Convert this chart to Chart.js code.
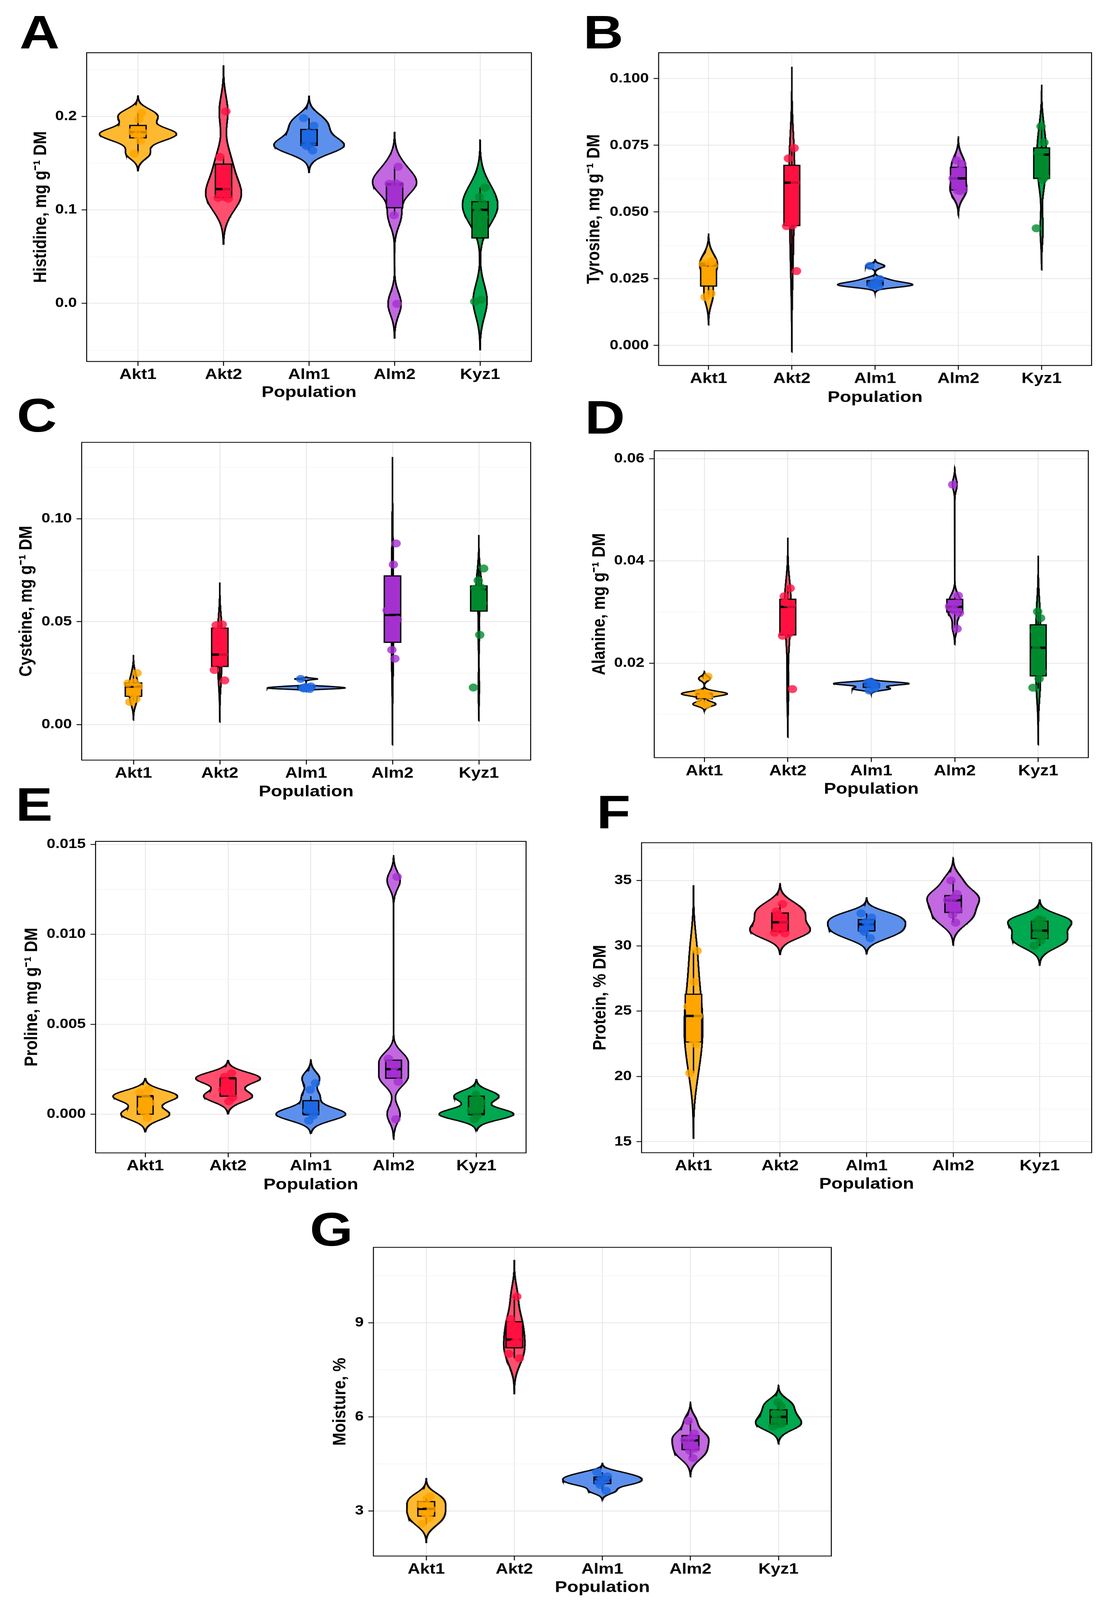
<!DOCTYPE html>
<html>
<head>
<meta charset="utf-8">
<script src="https://cdn.jsdelivr.net/npm/chart.js@4.4.1/dist/chart.umd.min.js"></script>
<style>
  html, body { margin: 0; background: #fff; overflow: hidden; }
  #page { position: absolute; left: 0; top: 0; width: 2859px; height: 4796px; transform-origin: 0 0; }
  .panel { position: absolute; }
  .tag { position: absolute; font: bold 142px "Liberation Sans", Arial, sans-serif; line-height: 1; color: #000; }
</style>
</head>
<body>
<div id="page"></div>
<script>
// populations on the x axis
const populations = ['Akt1', 'Akt2', 'Alm1', 'Alm2', 'Kyz1'];

// individual samples, one array per population (Akt1, Akt2, Alm1, Alm2, Kyz1)
const histidine = [
  [0.160, 0.174, 0.180, 0.183, 0.1835, 0.197, 0.2036],
  [0.112, 0.1128, 0.1138, 0.1222, 0.1412, 0.1566, 0.2053],
  [0.1635, 0.168, 0.1696, 0.171, 0.182, 0.190, 0.198],
  [-0.0004, 0.0942, 0.1266, 0.1278, 0.1285, 0.1461],
  [0.002, 0.004, 0.092, 0.097, 0.103, 0.107, 0.114, 0.1238]
];
const tyrosine = [
  [0.0181, 0.0195, 0.025, 0.030, 0.0305, 0.0312, 0.0315],
  [0.0279, 0.0447, 0.0451, 0.061, 0.0649, 0.0701, 0.074],
  [0.0221, 0.0224, 0.0227, 0.0233, 0.0236, 0.0249, 0.0298],
  [0.0578, 0.058, 0.0585, 0.0626, 0.0655, 0.068, 0.0694],
  [0.0439, 0.0621, 0.0631, 0.0715, 0.072, 0.0761, 0.0821]
];
const cysteine = [
  [0.011, 0.0125, 0.015, 0.0185, 0.020, 0.0205, 0.025],
  [0.0215, 0.0265, 0.030, 0.034, 0.0455, 0.0483, 0.0487],
  [0.0173, 0.0176, 0.0178, 0.018, 0.0183, 0.0186, 0.0222],
  [0.0321, 0.0363, 0.0511, 0.0555, 0.0778, 0.088],
  [0.018, 0.0436, 0.059, 0.0655, 0.066, 0.0665, 0.07, 0.0759]
];
const alanine = [
  [0.012, 0.012, 0.014, 0.014, 0.014, 0.014, 0.017],
  [0.015, 0.025, 0.026, 0.031, 0.032, 0.033, 0.035],
  [0.015, 0.015, 0.016, 0.016, 0.016, 0.016],
  [0.027, 0.030, 0.030, 0.031, 0.032, 0.033, 0.055],
  [0.015, 0.017, 0.018, 0.023, 0.026, 0.029, 0.030]
];
const proline = [
  [0, 0, 0, 0.001, 0.001, 0.001, 0.001],
  [0.001, 0.001, 0.001, 0.002, 0.002, 0.002, 0.002],
  [0, 0, 0, 0, 0.001, 0.002],
  [0, 0.002, 0.002, 0.003, 0.003, 0.013],
  [0, 0, 0, 0, 0, 0.001, 0.001, 0.001]
];
const protein = [
  [20.25, 22.48, 22.8, 24.63, 25.35, 27.23, 29.61],
  [30.95, 31.0, 31.25, 31.8, 32.4, 32.62, 33.2],
  [30.58, 31.07, 31.2, 31.65, 31.84, 32.17, 32.48],
  [31.78, 32.36, 32.75, 33.49, 33.72, 33.97, 35.0],
  [30.0, 30.39, 30.73, 31.16, 31.8, 31.96, 32.03]
];
const moisture = [
  [2.585, 2.78, 2.9, 3.07, 3.2, 3.4, 3.447],
  [7.87, 7.99, 8.41, 8.46, 8.95, 9.11, 9.846],
  [3.64, 3.85, 3.9, 3.995, 4.05, 4.12, 4.23],
  [4.7, 4.91, 5.0, 5.25, 5.35, 5.46, 5.875],
  [5.68, 5.77, 5.77, 6.0, 6.1, 6.35, 6.46]
];

// y tick values and their labels
const histidineTicks = [0, 0.1, 0.2];
const histidineLabels = ['0.0', '0.1', '0.2'];
const tyrosineTicks = [0, 0.025, 0.05, 0.075, 0.1];
const tyrosineLabels = ['0.000', '0.025', '0.050', '0.075', '0.100'];
const cysteineTicks = [0, 0.05, 0.1];
const cysteineLabels = ['0.00', '0.05', '0.10'];
const alanineTicks = [0.02, 0.04, 0.06];
const alanineLabels = ['0.02', '0.04', '0.06'];
const prolineTicks = [0, 0.005, 0.01, 0.015];
const prolineLabels = ['0.000', '0.005', '0.010', '0.015'];
const proteinTicks = [15, 20, 25, 30, 35];
const proteinLabels = ['15', '20', '25', '30', '35'];
const moistureTicks = [3, 6, 9];
const moistureLabels = ['3', '6', '9'];

// colours
const violinFill = ['#FFB930', '#FF4F6E', '#5D90EC', '#C268E0', '#00A850'];
const boxFill = ['#FFA500', '#FF1040', '#1E68E3', '#A530D0', '#008A2E'];
const pointFill = ['rgba(255,165,0,0.8)', 'rgba(255,16,64,0.8)', 'rgba(30,104,227,0.8)',
                   'rgba(165,48,208,0.8)', 'rgba(0,138,46,0.8)'];
const jitterX = [-0.6, 0.4, -0.1, 0.8, -0.9, 0.15, 0.6, -0.35];
const jitterY = [0.7, -0.5, 0.2, -0.9, 0.5, -0.2, 0.9, -0.7];

// panel layout (pixels on the 2859 x 4796 page)
const panels = [
  {tag: 'A', tagPos: [50, 43], title: 'Histidine, mg g\u207B\u00B9 DM', values: histidine,
   ticks: histidineTicks, labels: histidineLabels, range: [-0.0621, 0.268],
   plot: [221.6, 125.5, 1368, 1083], yTitleX: 105, xTitleY: 1177},
  {tag: 'B', tagPos: [1493, 43], title: 'Tyrosine, mg g\u207B\u00B9 DM', values: tyrosine,
   ticks: tyrosineTicks, labels: tyrosineLabels, range: [-0.0075, 0.1097],
   plot: [1685.4, 125.5, 2800.7, 1095], yTitleX: 1521, xTitleY: 1192},
  {tag: 'C', tagPos: [43, 1192], title: 'Cysteine, mg g\u207B\u00B9 DM', values: cysteine,
   ticks: cysteineTicks, labels: cysteineLabels, range: [-0.01723, 0.1371],
   plot: [208.8, 1293.6, 1366, 2278], yTitleX: 68, xTitleY: 2374},
  {tag: 'D', tagPos: [1497, 1198], title: 'Alanine, mg g\u207B\u00B9 DM', values: alanine,
   ticks: alanineTicks, labels: alanineLabels, range: [0.0015, 0.06156],
   plot: [1674.4, 1319, 2793.4, 2271], yTitleX: 1535, xTitleY: 2366},
  {tag: 'E', tagPos: [40, 2358], title: 'Proline, mg g\u207B\u00B9 DM', values: proline,
   ticks: prolineTicks, labels: prolineLabels, range: [-0.002154, 0.01517],
   plot: [244.4, 2490.4, 1354.3, 3455.3], yTitleX: 82, xTitleY: 3551},
  {tag: 'F', tagPos: [1527, 2382], title: 'Protein, % DM', values: protein,
   ticks: proteinTicks, labels: proteinLabels, range: [14.165, 37.89],
   plot: [1642.5, 2494.3, 2802.5, 3454.5], yTitleX: 1537.6, xTitleY: 3549},
  {tag: 'G', tagPos: [793, 3632], title: 'Moisture, %', values: moisture,
   ticks: moistureTicks, labels: moistureLabels, range: [1.567, 11.397],
   plot: [955.5, 3706.8, 2134.6, 4664], yTitleX: 871, xTitleY: 4759}
];

// the figure is 4796px tall; squeeze it vertically if the window is shorter
const page = document.getElementById('page');
const fit = Math.min(1, window.innerHeight / 4796);
if (fit < 1) page.style.transform = 'scale(1,' + fit + ')';

// --- stats (what ggplot does for violins and boxplots) ---
function quantile(s, p) {
  const h = (s.length - 1) * p, lo = Math.floor(h), hi = Math.min(lo + 1, s.length - 1);
  return s[lo] + (h - lo) * (s[hi] - s[lo]);
}
function sd(a) {
  const m = a.reduce((t, v) => t + v, 0) / a.length;
  return Math.sqrt(a.reduce((t, v) => t + (v - m) * (v - m), 0) / (a.length - 1));
}
function bwNrd0(a) {
  const s = a.slice().sort((x, y) => x - y);
  const hi = sd(s);
  let lo = Math.min(hi, (quantile(s, 0.75) - quantile(s, 0.25)) / 1.34);
  if (!lo) lo = hi || Math.abs(s[0]) || 1;
  return 0.9 * lo * Math.pow(s.length, -0.2);
}
function density(a) {
  const bw = bwNrd0(a), steps = 300;
  const from = Math.min(...a) - 3 * bw, to = Math.max(...a) + 3 * bw;
  const out = [];
  for (let k = 0; k <= steps; k++) {
    const y = from + (to - from) * k / steps;
    let d = 0;
    for (const v of a) { const z = (y - v) / bw; d += Math.exp(-0.5 * z * z); }
    out.push({y, d: d / (a.length * bw * Math.sqrt(2 * Math.PI))});
  }
  return out;
}
function boxStats(a) {
  const s = a.slice().sort((x, y) => x - y);
  const q1 = quantile(s, 0.25), med = quantile(s, 0.5), q3 = quantile(s, 0.75), iqr = q3 - q1;
  const lo = Math.min(...s.filter(v => v >= q1 - 1.5 * iqr));
  const hi = Math.max(...s.filter(v => v <= q3 + 1.5 * iqr));
  return {q1, med, q3, lo, hi};
}
function resolution(groups) {
  const u = [...new Set(groups.flat())].sort((x, y) => x - y);
  let r = Infinity;
  for (let i = 1; i < u.length; i++) r = Math.min(r, u[i] - u[i - 1]);
  return isFinite(r) ? r : 1;
}

const frame = {
  id: 'frame',
  afterDatasetsDraw(chart) {
    const {ctx, chartArea: {left, top, right, bottom}} = chart;
    ctx.save();
    ctx.strokeStyle = '#000';
    ctx.lineWidth = 2.5;
    ctx.strokeRect(left, top, right - left, bottom - top);
    ctx.restore();
  }
};

Chart.defaults.font.family = "'Liberation Sans', Arial, sans-serif";
Chart.defaults.color = '#000';

function buildPanel(p) {
  const lh = 47 * 1.2;
  const left = p.yTitleX - lh / 2, top = p.plot[1] - 4;
  const right = p.plot[2] + 4, bottom = p.xTitleY + lh / 2;

  const tag = document.createElement('div');
  tag.className = 'tag';
  tag.textContent = p.tag;
  tag.style.left = p.tagPos[0] + 'px';
  tag.style.top = (p.tagPos[1] - 18.5) + 'px';
  page.appendChild(tag);

  const holder = document.createElement('div');
  holder.className = 'panel';
  Object.assign(holder.style, {left: left + 'px', top: top + 'px',
    width: (right - left) + 'px', height: (bottom - top) + 'px'});
  const cv = document.createElement('canvas');
  holder.appendChild(cv);
  page.appendChild(holder);

  const dens = p.values.map(density);
  const maxD = Math.max(...dens.map(d => Math.max(...d.map(q => q.d))));
  const res = resolution(p.values);
  const bw = 0.095;
  const datasets = [];

  p.values.forEach((g, i) => {
    const cx = i + 1;
    const half = dens[i].map(q => ({y: q.y, w: q.d / maxD * 0.45}));
    const outline = half.map(q => ({x: cx + q.w, y: q.y}))
      .concat(half.slice().reverse().map(q => ({x: cx - q.w, y: q.y})));
    outline.push(outline[0], outline[1]);
    datasets.push({type: 'line', data: outline, fill: 'shape', backgroundColor: violinFill[i],
      borderColor: '#000', borderWidth: 4, pointRadius: 0, tension: 0, order: 6});

    const s = boxStats(g);
    datasets.push({type: 'line', data: [{x: cx, y: s.q3}, {x: cx, y: s.hi}], borderColor: '#000',
      borderWidth: 3.5, pointRadius: 0, fill: false, order: 5});
    datasets.push({type: 'line', data: [{x: cx, y: s.lo}, {x: cx, y: s.q1}], borderColor: '#000',
      borderWidth: 3.5, pointRadius: 0, fill: false, order: 5});
    datasets.push({type: 'line', data: [
        {x: cx - bw, y: s.q1}, {x: cx + bw, y: s.q1}, {x: cx + bw, y: s.q3},
        {x: cx - bw, y: s.q3}, {x: cx - bw, y: s.q1}, {x: cx + bw, y: s.q1}],
      fill: 'shape', backgroundColor: boxFill[i], borderColor: '#000', borderWidth: 3.5,
      borderJoinStyle: 'miter', pointRadius: 0, tension: 0, order: 4});
    datasets.push({type: 'line', data: [{x: cx - bw, y: s.med}, {x: cx + bw, y: s.med}],
      borderColor: '#000', borderWidth: 7, borderCapStyle: 'butt', pointRadius: 0, fill: false, order: 3});
    datasets.push({type: 'scatter', order: 1, pointRadius: 12, borderWidth: 0,
      backgroundColor: pointFill[i],
      data: g.map((v, k) => ({x: cx + 0.07 * jitterX[(k + i * 3) % 8],
                              y: v + 0.4 * res * jitterY[(k + i * 5) % 8]}))});
  });

  const [ymin, ymax] = p.range;
  const step = p.ticks[1] - p.ticks[0], halfStep = step / 2;
  const yVals = [];
  let v0 = p.ticks[0] - Math.floor((p.ticks[0] - ymin) / halfStep + 1e-9) * halfStep;
  for (let v = v0; v <= ymax + 1e-12; v += halfStep) yVals.push(Math.round(v * 1e9) / 1e9);
  const majorIdx = v => {
    const k = (v - p.ticks[0]) / step;
    return Math.abs(k - Math.round(k)) < 1e-6 ? Math.round(k) : -1;
  };
  const isMajor = v => { const k = majorIdx(v); return k >= 0 && k < p.ticks.length; };

  new Chart(cv, {
    type: 'scatter',
    data: {datasets},
    plugins: [frame],
    options: {
      responsive: true, maintainAspectRatio: false, animation: false, devicePixelRatio: 1,
      events: [],
      layout: {padding: {top: 4, right: 4, left: 0, bottom: 0}},
      plugins: {legend: {display: false}, tooltip: {enabled: false}},
      scales: {
        x: {
          type: 'linear', min: 0.4, max: 5.6,
          afterBuildTicks: sc => { sc.ticks = populations.map((n, i) => ({value: i + 1})); },
          afterFit: sc => { sc.height = bottom - p.plot[3]; },
          ticks: {autoSkip: false, maxRotation: 0, padding: 1, color: '#000',
            font: {size: 44, weight: 'bold'},
            callback: v => populations[Math.round(v) - 1]},
          grid: {color: '#E6E6E6', lineWidth: 2.2, tickColor: '#000', tickLength: 13, tickWidth: 2.5},
          border: {display: false},
          title: {display: true, text: 'Population', padding: 0, color: '#000',
            font: {size: 47, weight: 'bold'}}
        },
        y: {
          type: 'linear', min: ymin, max: ymax,
          afterBuildTicks: sc => { sc.ticks = yVals.map(v => ({value: v})); },
          afterFit: sc => { sc.width = p.plot[0] - left; },
          ticks: {autoSkip: false, padding: 12, color: '#000', font: {size: 40, weight: 'bold'},
            callback: v => isMajor(v) ? p.labels[majorIdx(v)] : ''},
          grid: {
            color: c => isMajor(c.tick.value) ? '#E6E6E6' : '#F3F3F3',
            lineWidth: c => isMajor(c.tick.value) ? 2.2 : 1.4,
            tickColor: c => isMajor(c.tick.value) ? '#000' : 'rgba(0,0,0,0)',
            tickLength: 13, tickWidth: 2.5
          },
          border: {display: false},
          title: {display: true, text: p.title, padding: 0, color: '#000',
            font: {size: 47, weight: 'bold'}}
        }
      }
    }
  });
}

panels.forEach(buildPanel);
</script>
</body>
</html>
